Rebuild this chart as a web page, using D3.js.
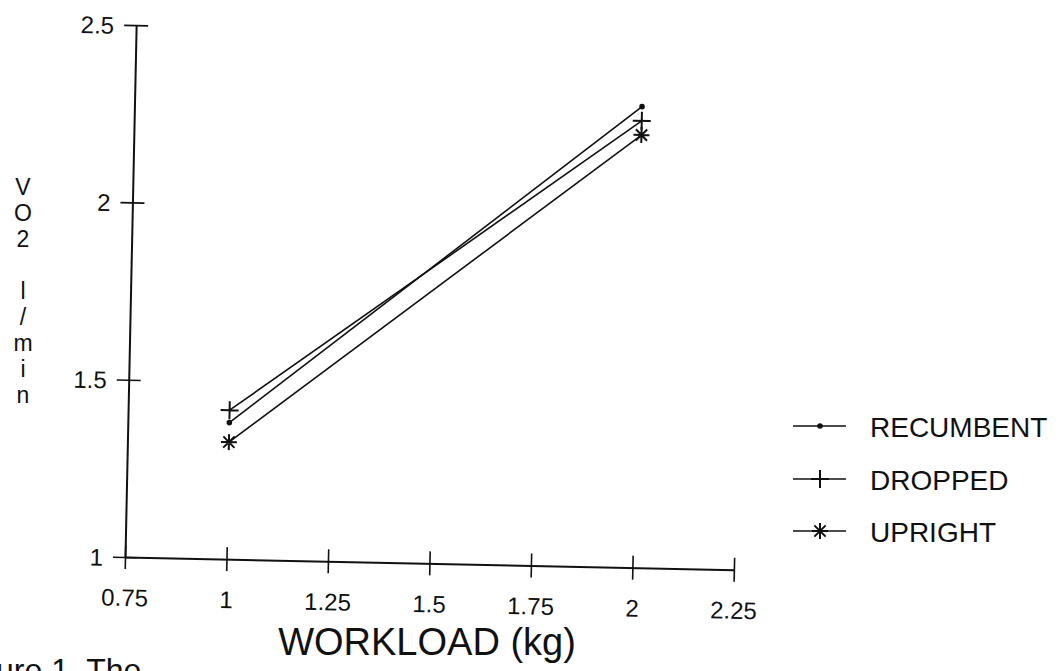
<!DOCTYPE html>
<html>
<head>
<meta charset="utf-8">
<script src="https://cdn.jsdelivr.net/npm/d3@7"></script>
<style>
    body { margin: 0; background: #fff; }
    text { font-family: "Liberation Sans", Arial, sans-serif; fill: #111; }
</style>
</head>
<body>
<svg id="chart" width="1059" height="671"></svg>
<script>
// data
var workload = [1.0, 2.0];
var recumbent = [1.385, 2.30];
var dropped = [1.42, 2.26];
var upright = [1.33, 2.22];
var seriesNames = ["RECUMBENT", "DROPPED", "UPRIGHT"];
var xTicks = [0.75, 1, 1.25, 1.5, 1.75, 2, 2.25];
var yTicks = [1, 1.5, 2, 2.5];
var yTitle = ["V", "O", "2", "", "l", "/", "m", "i", "n"];

var series = [
    { name: seriesNames[0], values: recumbent, mark: "dot" },
    { name: seriesNames[1], values: dropped, mark: "plus" },
    { name: seriesNames[2], values: upright, mark: "star" }
];

var x0 = 125, y0 = 557;
var x = d3.scaleLinear().domain([0.75, 2.25]).range([x0, 734]);
var y = d3.scaleLinear().domain([1, 2.5]).range([y0, 25]);

var svg = d3.select("#chart");

// the scanned page sits a little crooked
var plot = svg.append("g")
    .attr("transform", "rotate(1.2," + x0 + "," + y0 + ")");

var xAxis = d3.axisBottom(x).tickValues(xTicks).tickSizeInner(12).tickSizeOuter(0)
    .tickFormat(function(d) { return String(d); });
var yAxis = d3.axisLeft(y).tickValues(yTicks).tickSizeInner(12).tickSizeOuter(0)
    .tickFormat(function(d) { return String(d); });

var gx = plot.append("g").attr("transform", "translate(0," + y0 + ")").call(xAxis);
var gy = plot.append("g").attr("transform", "translate(" + x0 + ",0)").call(yAxis);

[gx, gy].forEach(function(g) {
    g.select(".domain").attr("stroke", "#111").attr("stroke-width", 2);
    g.selectAll(".tick line").attr("stroke", "#111").attr("stroke-width", 1.6);
    g.selectAll(".tick text").style("font-size", "24px").attr("fill", "#111");
});
// ticks cross the axis lines
gx.selectAll(".tick line").attr("y1", -12).attr("y2", 12);
gx.selectAll(".tick text").attr("y", 32).attr("dy", "0.71em");
gy.selectAll(".tick line").attr("x1", -12).attr("x2", 12);
gy.selectAll(".tick text").attr("x", -22).attr("dy", "0.36em");

var line = d3.line()
    .x(function(d, i) { return x(workload[i]); })
    .y(function(d) { return y(d); });

function drawMark(g, kind, cx, cy) {
    if (kind === "dot") {
        g.append("circle").attr("cx", cx).attr("cy", cy).attr("r", 2.8).attr("fill", "#111");
    } else if (kind === "plus") {
        g.append("path")
            .attr("d", "M" + (cx - 9) + "," + cy + "H" + (cx + 9) + "M" + cx + "," + (cy - 9) + "V" + (cy + 9))
            .attr("stroke", "#111").attr("stroke-width", 2).attr("fill", "none");
    } else {
        var p = "";
        [0, 45, 90, 135].forEach(function(a) {
            var r = a * Math.PI / 180, dx = 8 * Math.cos(r), dy = 8 * Math.sin(r);
            p += "M" + (cx - dx) + "," + (cy - dy) + "L" + (cx + dx) + "," + (cy + dy);
        });
        g.append("path").attr("d", p).attr("stroke", "#111").attr("stroke-width", 2).attr("fill", "none");
    }
}

series.forEach(function(s) {
    plot.append("path")
        .datum(s.values)
        .attr("d", line)
        .attr("fill", "none")
        .attr("stroke", "#111")
        .attr("stroke-width", 1.6);
    s.values.forEach(function(v, i) {
        drawMark(plot, s.mark, x(workload[i]), y(v));
    });
});

// legend
var legY = [426, 479, 531];
series.forEach(function(s, i) {
    var g = svg.append("g");
    g.append("line").attr("x1", 793).attr("x2", 846).attr("y1", legY[i]).attr("y2", legY[i])
        .attr("stroke", "#111").attr("stroke-width", 1.6);
    drawMark(g, s.mark, 820, legY[i]);
    g.append("text").attr("x", 870).attr("y", legY[i] + 11)
        .style("font-size", "28px").text(s.name);
});

// axis titles
svg.append("g").selectAll("text")
    .data(yTitle)
    .enter().append("text")
    .attr("x", 23)
    .attr("y", function(d, i) { return 195 + i * 26; })
    .attr("text-anchor", "middle")
    .style("font-size", "23px")
    .text(function(d) { return d; });

svg.append("text")
    .attr("x", 427).attr("y", 655)
    .attr("text-anchor", "middle")
    .style("font-size", "38px")
    .text("WORKLOAD (kg)");

// caption cut off by the bottom edge of the scan
svg.append("text")
    .attr("x", -4).attr("y", 681)
    .style("font-size", "32px")
    .text("ure 1. The");
</script>
</body>
</html>
